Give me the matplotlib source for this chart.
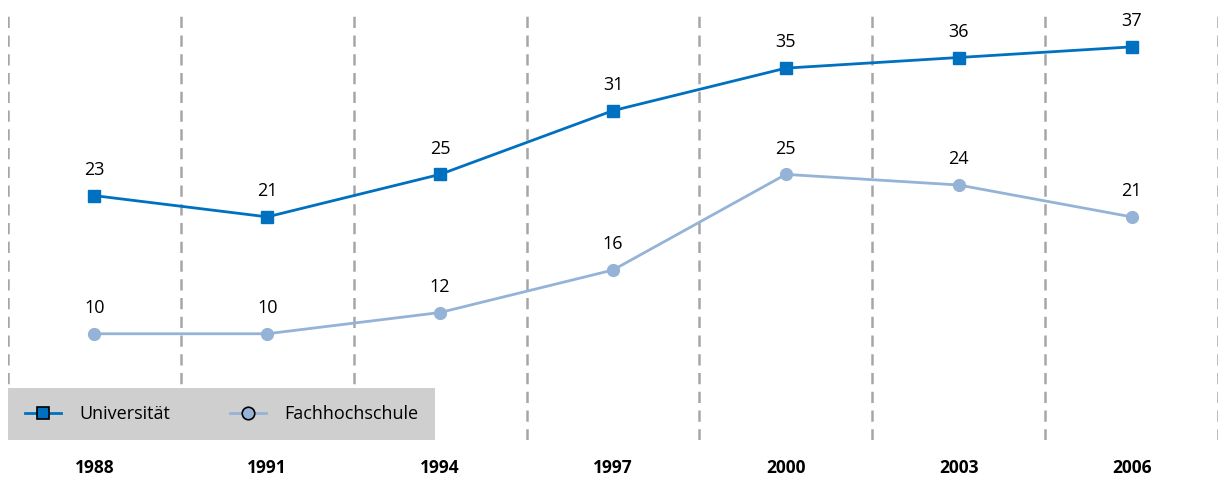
import matplotlib.pyplot as plt
from matplotlib.lines import Line2D

years = ["1988", "1991", "1994", "1997", "2000", "2003", "2006"]
universitaet = [23, 21, 25, 31, 35, 36, 37]
fachhochschule = [10, 10, 12, 16, 25, 24, 21]

UNI_COLOR = "#0070C0"
FH_COLOR = "#95B3D7"
GRID_COLOR = "#A6A6A6"

plt.rcParams["font.family"] = ["Open Sans", "DejaVu Sans"]

fig = plt.figure(figsize=(12.26, 4.83), dpi=100)
ax = fig.add_axes([8 / 1226, 1 - 440 / 483, 1210 / 1226, 425 / 483])

x = list(range(len(years)))
ax.set_xlim(-0.5, len(years) - 0.5)
ax.set_ylim(0, 40)

# dashed separators between the year columns
for b in [i - 0.5 for i in range(len(years) + 1)]:
    ax.axvline(b, color=GRID_COLOR, lw=1.8, ls=(0, (4.5, 3)), zorder=1)

ax.plot(x, universitaet, color=UNI_COLOR, lw=2, marker="s", ms=8.5,
        mec=UNI_COLOR, zorder=3)
ax.plot(x, fachhochschule, color=FH_COLOR, lw=2, marker="o", ms=8.5,
        mec=FH_COLOR, zorder=3)

for xi, v in zip(x, universitaet):
    ax.annotate(str(v), (xi, v), xytext=(0, 12), textcoords="offset points",
                ha="center", va="bottom", fontsize=13)
for xi, v in zip(x, fachhochschule):
    ax.annotate(str(v), (xi, v), xytext=(0, 12), textcoords="offset points",
                ha="center", va="bottom", fontsize=13)

ax.set_xticks(x)
ax.set_xticklabels(years, fontsize=12.5, fontweight="bold")
ax.tick_params(axis="x", length=0, pad=14)
ax.set_yticks([])
for s in ax.spines.values():
    s.set_visible(False)

handles = [
    Line2D([], [], color=UNI_COLOR, lw=2, marker="s", ms=9,
           mfc=UNI_COLOR, mec="black", mew=1.2),
    Line2D([], [], color=FH_COLOR, lw=2, marker="o", ms=9,
           mfc=FH_COLOR, mec="black", mew=1.2),
]
leg = ax.legend(handles, ["Universität", "Fachhochschule"], loc="lower left",
                bbox_to_anchor=(0, 0), ncol=2, frameon=True, fancybox=False,
                fontsize=13, handlelength=2.0, columnspacing=3.3,
                borderpad=0.95, borderaxespad=0, handletextpad=1.0)
leg.get_frame().set_facecolor("#CFCFCF")
leg.get_frame().set_edgecolor("none")
leg.get_frame().set_alpha(1)
leg.set_zorder(5)

fig.savefig("out.png", dpi=100)
